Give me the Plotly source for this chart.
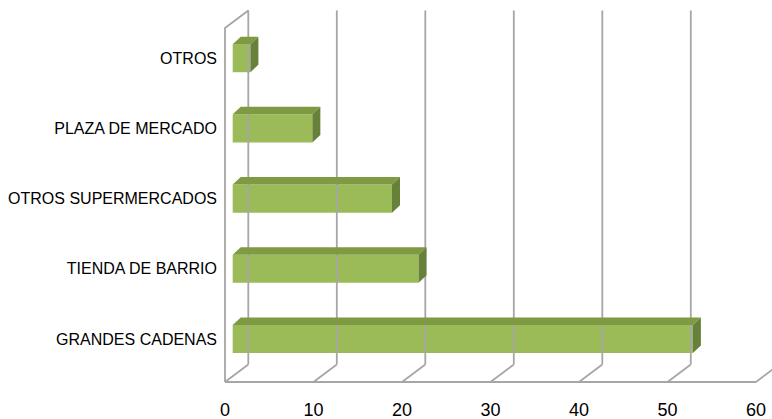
import plotly.graph_objects as go

# Purchase channel shares (bottom to top)
categories = ["GRANDES CADENAS", "TIENDA DE BARRIO", "OTROS SUPERMERCADOS",
              "PLAZA DE MERCADO", "OTROS"]
values = [52, 21, 18, 9, 2]
x_ticks = [0, 10, 20, 30, 40, 50, 60]

# ---- pseudo-3D geometry (data units) ----
W, H = 772, 419
PX_PER_UNIT = 8.85          # horizontal pixels per value unit
PX_PER_CAT = 70.2           # vertical pixels per category step
X0_PX = 225                 # pixel of value 0 on the front floor edge
Y0_PX = 339                 # pixel of first category centre
ML, MB = 222, 29

x_range = [(ML - X0_PX) / PX_PER_UNIT, (W - X0_PX) / PX_PER_UNIT]
y_range = [(Y0_PX - (H - MB)) / PX_PER_CAT, Y0_PX / PX_PER_CAT]

def py(p):
    """pixel row -> category coordinate"""
    return (Y0_PX - p) / PX_PER_CAT

WALL_DX = 23.3 / PX_PER_UNIT      # depth vector of the chart box
WALL_DY = 17.5 / PX_PER_CAT
FLOOR_Y = py(382)
WALL_TOP = py(28)

BAR_X0 = 7.7 / PX_PER_UNIT        # front face of bars sits inside the box
BAR_HALF = 0.2
BAR_DX = 8.0 / PX_PER_UNIT        # depth of each bar
BAR_DY = 7.5 / PX_PER_CAT

fig = go.Figure()

# walls and floor lines
gx, gy = [], []
# left wall outline
gx += [0, 0, WALL_DX, WALL_DX, None]
gy += [FLOOR_Y, WALL_TOP, WALL_TOP + WALL_DY, FLOOR_Y + WALL_DY, None]
# floor front edge
gx += [x_ticks[0], x_ticks[-1], None]
gy += [FLOOR_Y, FLOOR_Y, None]
for t in x_ticks:
    # floor diagonal
    gx += [t, t + WALL_DX, None]
    gy += [FLOOR_Y, FLOOR_Y + WALL_DY, None]
    if t > 0:
        # back wall gridline
        gx += [t + WALL_DX, t + WALL_DX, None]
        gy += [FLOOR_Y + WALL_DY, WALL_TOP + WALL_DY, None]
fig.add_trace(go.Scatter(x=gx, y=gy, mode="lines",
                         line=dict(color="#a6a6a6", width=1.8),
                         hoverinfo="skip", showlegend=False))

idx = list(range(len(categories)))

# front faces
fig.add_trace(go.Bar(orientation="h", y=idx, x=values, base=BAR_X0,
                     width=2 * BAR_HALF,
                     marker=dict(color="#9BBB59", line=dict(width=0)),
                     showlegend=False, hoverinfo="skip"))

# top and side faces
for i, v in zip(idx, values):
    x1 = BAR_X0 + v
    top_x = [BAR_X0, x1, x1 + BAR_DX, BAR_X0 + BAR_DX, BAR_X0]
    top_y = [i + BAR_HALF, i + BAR_HALF, i + BAR_HALF + BAR_DY,
             i + BAR_HALF + BAR_DY, i + BAR_HALF]
    fig.add_trace(go.Scatter(x=top_x, y=top_y, mode="lines", fill="toself",
                             fillcolor="#7E9B44", line=dict(width=0),
                             hoverinfo="skip", showlegend=False))
    side_x = [x1, x1 + BAR_DX, x1 + BAR_DX, x1, x1]
    side_y = [i - BAR_HALF, i - BAR_HALF + BAR_DY, i + BAR_HALF + BAR_DY,
              i + BAR_HALF, i - BAR_HALF]
    fig.add_trace(go.Scatter(x=side_x, y=side_y, mode="lines", fill="toself",
                             fillcolor="#67803A", line=dict(width=0),
                             hoverinfo="skip", showlegend=False))

fig.update_layout(
    width=W, height=H,
    margin=dict(l=ML, r=0, t=0, b=MB),
    paper_bgcolor="white", plot_bgcolor="white",
    xaxis=dict(range=x_range, tickvals=x_ticks, showgrid=False,
               zeroline=False, showline=False, ticks="",
               ticklabelstandoff=7,
               tickfont=dict(family="Liberation Sans", size=18, color="#000000"),
               fixedrange=True),
    yaxis=dict(range=y_range, tickvals=idx, ticktext=categories,
               showgrid=False, zeroline=False, showline=False, ticks="",
               ticklabelstandoff=4,
               tickfont=dict(family="Liberation Sans", size=16, color="#000000"),
               fixedrange=True),
)

fig.write_html("out.html")
